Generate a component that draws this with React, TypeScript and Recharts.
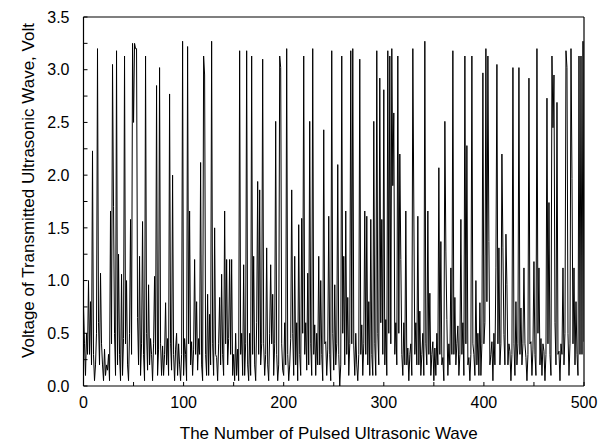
import React from 'react';
import { LineChart, Line, XAxis, YAxis, Label } from 'recharts';

// Voltage readings, pulses 0-99, 100-199, 200-299, 300-399, 400-500
const voltageA = [
  0.75, 0.4, 0.1, 0.5, 0.3, 1.0, 0.3, 0.8, 0.2, 2.23,
  0.3, 0.05, 0.2, 0.5, 3.2, 0.6, 0.2, 1.07, 0.4, 0.2,
  0.05, 0.35, 0.1, 0.2, 0.15, 0.3, 0.05, 1.66, 0.4, 3.05,
  1.7, 0.5, 0.1, 3.18, 0.2, 1.25, 0.3, 0.05, 1.06, 0.1,
  0.45, 3.13, 0.4, 1.0, 0.2, 0.05, 0.5, 1.58, 0.3, 3.25,
  2.5, 3.25, 3.2, 3.2, 0.65, 0.2, 1.23, 0.1, 0.4, 1.56,
  0.3, 0.05, 3.13, 0.5, 0.15, 0.96, 0.2, 0.45, 0.3, 0.05,
  0.4, 1.04, 0.3, 2.85, 0.1, 0.35, 3.02, 0.4, 0.1, 0.38,
  0.1, 0.3, 0.79, 0.2, 0.45, 0.1, 2.77, 0.4, 0.15, 2.0,
  0.3, 0.05, 0.35, 0.5, 0.1, 0.4, 0.2, 0.05, 0.3, 3.27,
];
const voltageB = [
  0.1, 0.45, 0.3, 0.05, 3.22, 0.4, 1.66, 0.2, 0.42, 0.1,
  0.35, 1.2, 0.3, 0.8, 0.15, 0.45, 0.3, 2.12, 0.2, 0.05,
  3.13, 2.95, 0.3, 0.1, 0.87, 0.1, 0.68, 0.2, 3.27, 0.4,
  0.1, 1.5, 0.3, 0.27, 0.05, 0.4, 0.84, 0.2, 1.06, 0.3,
  0.1, 1.66, 0.4, 1.2, 0.2, 0.45, 1.2, 0.3, 1.2, 0.1,
  0.3, 0.05, 0.5, 0.1, 0.35, 0.05, 3.18, 0.3, 0.5, 0.1,
  1.15, 0.1, 0.4, 3.18, 0.2, 0.05, 0.5, 0.1, 3.13, 0.3,
  1.23, 0.2, 0.05, 0.6, 1.94, 0.3, 1.86, 0.2, 0.4, 3.1,
  0.4, 0.1, 0.3, 1.31, 0.2, 0.05, 0.5, 1.15, 0.4, 0.87,
  0.1, 0.4, 2.51, 0.3, 0.05, 0.2, 3.13, 3.02, 0.4, 0.15,
];
const voltageC = [
  0.1, 0.6, 0.2, 3.2, 0.3, 0.05, 0.2, 0.45, 1.86, 0.5,
  0.1, 1.23, 0.2, 0.6, 0.05, 1.53, 0.3, 0.1, 1.59, 0.5,
  3.13, 0.3, 0.6, 0.15, 1.07, 0.2, 2.51, 0.4, 0.1, 3.2,
  0.3, 0.58, 0.1, 0.5, 0.2, 1.23, 0.2, 1.0, 0.3, 0.05,
  2.43, 0.4, 0.42, 0.1, 0.35, 1.61, 0.3, 0.05, 3.18, 0.5,
  0.15, 0.96, 0.2, 0.4, 2.1, 0.3, 0.0, 0.2, 3.13, 0.5,
  1.23, 0.2, 1.66, 0.3, 0.84, 0.1, 0.4, 3.18, 0.4, 3.2,
  0.38, 0.1, 0.5, 0.2, 0.05, 0.3, 3.1, 0.3, 0.58, 0.1,
  0.4, 1.66, 0.3, 1.61, 0.2, 0.8, 0.1, 1.58, 0.3, 0.1,
  2.51, 0.4, 0.1, 3.18, 0.5, 0.2, 2.92, 0.6, 1.58, 0.3,
];
const voltageD = [
  2.81, 0.2, 0.63, 0.1, 3.18, 0.5, 3.13, 0.4, 3.2, 1.9,
  2.59, 0.3, 0.6, 0.2, 3.13, 0.5, 2.2, 1.2, 0.3, 0.1,
  0.6, 0.2, 1.66, 0.2, 0.36, 0.05, 0.3, 0.4, 0.1, 3.2,
  1.66, 0.3, 0.6, 0.2, 1.61, 0.2, 0.71, 0.1, 0.3, 0.5,
  0.1, 3.27, 0.4, 0.2, 1.66, 0.3, 0.88, 0.1, 0.3, 0.42,
  0.05, 0.36, 0.1, 0.5, 0.2, 2.07, 0.3, 1.37, 0.2, 0.27,
  0.05, 2.51, 1.28, 0.63, 0.1, 0.4, 0.2, 1.12, 0.3, 3.18,
  0.3, 0.84, 0.2, 0.4, 0.57, 0.1, 0.3, 1.58, 0.3, 0.6,
  0.1, 3.13, 0.4, 2.28, 0.2, 0.27, 0.05, 0.3, 3.13, 0.4,
  0.3, 0.1, 1.0, 0.2, 0.5, 0.1, 0.79, 0.1, 0.4, 2.97,
];
const voltageE = [
  0.4, 0.6, 3.2, 0.8, 3.13, 1.37, 0.2, 0.3, 0.42, 0.05,
  0.5, 0.2, 1.12, 3.05, 0.4, 1.31, 0.2, 0.4, 2.2, 1.31,
  0.49, 0.2, 1.44, 0.96, 0.2, 0.4, 0.33, 0.05, 0.3, 3.02,
  0.4, 0.1, 0.8, 0.2, 0.4, 3.02, 0.3, 0.74, 0.2, 0.4,
  1.12, 0.4, 0.27, 0.05, 0.3, 2.92, 0.4, 0.42, 0.1, 0.35,
  1.18, 0.3, 0.1, 3.2, 0.5, 1.12, 0.2, 0.45, 0.1, 0.4,
  0.33, 0.05, 0.3, 2.73, 0.4, 1.74, 0.3, 0.1, 3.13, 2.45,
  2.95, 0.6, 0.2, 2.69, 0.3, 0.33, 0.05, 0.4, 0.3, 1.12,
  0.2, 0.5, 3.18, 3.02, 0.5, 0.1, 0.4, 3.2, 1.97, 0.4,
  1.12, 0.2, 0.8, 0.3, 0.1, 3.13, 0.3, 3.13, 0.3, 3.27,
  0.42,
];

const xTicks = [0, 50, 100, 150, 200, 250, 300, 350, 400, 450, 500];
const xLabelTicks = [0, 100, 200, 300, 400, 500];
const yTicks = [0, 0.25, 0.5, 0.75, 1.0, 1.25, 1.5, 1.75, 2.0, 2.25, 2.5, 2.75, 3.0, 3.25, 3.5];
const yLabelTicks = [0, 0.5, 1.0, 1.5, 2.0, 2.5, 3.0, 3.5];

const xTitle = 'The Number of Pulsed Ultrasonic Wave';
const yTitle = 'Voltage of Transmitted Ultrasonic Wave, Volt';

const voltage = [...voltageA, ...voltageB, ...voltageC, ...voltageD, ...voltageE];
const data = voltage.map((v, i) => ({ pulse: i, voltage: v }));

const FONT = "'Liberation Sans', Arial, sans-serif";
const tickStyle = { fill: '#000', fontSize: 16, fontFamily: FONT };
const axisLineStyle = { stroke: '#000', strokeWidth: 1.2 };
const tickLineStyle = { stroke: '#000', strokeWidth: 1 };

function YTitle(props: any) {
  const vb = props.viewBox || {};
  const cx = vb.x + 28;
  const cy = vb.y + vb.height / 2 - 11;
  return (
    <text
      x={cx}
      y={cy}
      transform={`rotate(-90, ${cx}, ${cy})`}
      textAnchor="middle"
      dominantBaseline="central"
      fill="#000"
      fontSize={17}
      fontFamily={FONT}
    >
      {yTitle}
    </text>
  );
}

function XTitle(props: any) {
  const vb = props.viewBox || {};
  const cx = vb.x + vb.width / 2 - 5;
  const cy = vb.y + 47;
  return (
    <text x={cx} y={cy} textAnchor="middle" dominantBaseline="central" fill="#000" fontSize={17} fontFamily={FONT}>
      {xTitle}
    </text>
  );
}

const fmtX = (v: number) => (xLabelTicks.includes(v) ? String(v) : '');
const fmtY = (v: number) => (yLabelTicks.includes(v) ? v.toFixed(1) : '');

export default function App() {
  return (
    <div style={{ position: 'absolute', left: 0, top: 0, width: 602, height: 442, background: '#fff' }}>
      <LineChart width={602} height={442} data={data} margin={{ top: 0, right: 0, bottom: 0, left: 0 }}>
        <XAxis
          xAxisId="b"
          dataKey="pulse"
          type="number"
          domain={[0, 500]}
          allowDataOverflow
          ticks={xTicks}
          interval={0}
          height={56}
          tickSize={-4}
          tickMargin={15}
          tickFormatter={fmtX}
          tick={tickStyle}
          tickLine={tickLineStyle}
          axisLine={axisLineStyle}
        >
          <Label content={<XTitle />} />
        </XAxis>
        <XAxis
          xAxisId="t"
          orientation="top"
          type="number"
          domain={[0, 500]}
          allowDataOverflow
          ticks={xTicks}
          interval={0}
          height={17}
          tickSize={-4}
          tick={false}
          tickLine={tickLineStyle}
          axisLine={axisLineStyle}
        />
        <YAxis
          yAxisId="l"
          type="number"
          domain={[0, 3.5]}
          allowDataOverflow
          ticks={yTicks}
          interval={0}
          width={83.5}
          tickSize={-4}
          tickMargin={18}
          tickFormatter={fmtY}
          tick={tickStyle}
          tickLine={tickLineStyle}
          axisLine={axisLineStyle}
        >
          <Label content={<YTitle />} />
        </YAxis>
        <YAxis
          yAxisId="r"
          orientation="right"
          type="number"
          domain={[0, 3.5]}
          allowDataOverflow
          ticks={yTicks}
          interval={0}
          width={18}
          tickSize={-4}
          tick={false}
          tickLine={tickLineStyle}
          axisLine={axisLineStyle}
        />
        <Line
          xAxisId="b"
          yAxisId="l"
          type="linear"
          dataKey="voltage"
          stroke="#000"
          strokeWidth={1}
          dot={false}
          activeDot={false}
          isAnimationActive={false}
        />
      </LineChart>
    </div>
  );
}
